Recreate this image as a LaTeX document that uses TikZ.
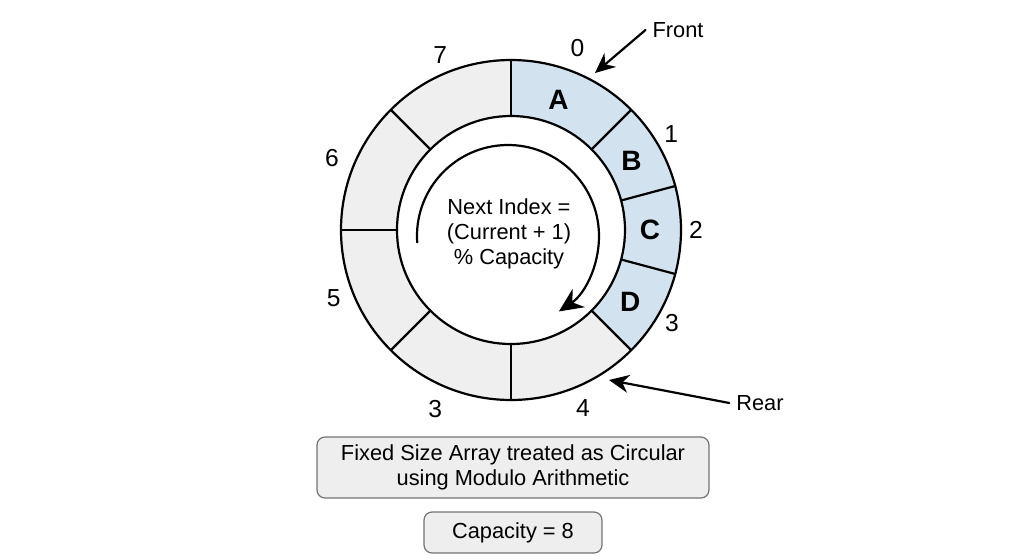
\documentclass[tikz,border=0pt]{standalone}
\usepackage{fontspec}
\setmainfont{Liberation Sans}
\usetikzlibrary{arrows.meta}
\definecolor{cellblue}{RGB}{211,226,239}
\definecolor{cellgray}{RGB}{239,239,239}
\definecolor{boxgray}{RGB}{238,238,238}
\begin{document}
\begin{tikzpicture}[line join=round,line cap=round,x=0.5pt,y=0.5pt]
	\tikzset{idx/.style={font=\fontsize{12.3}{14}\selectfont},
		cell/.style={font=\bfseries\fontsize{14}{16}\selectfont},
		tag/.style={font=\fontsize{10.9}{12.5}\selectfont},
		infobox/.style={draw=black!55,fill=boxgray,rounded corners=4pt,line width=0.6pt,align=center,inner sep=0pt,font=\fontsize{10.9}{12.5}\selectfont},
		pointer/.style={-{Stealth[length=10pt,width=9pt]},line width=1.1pt}}
	\useasboundingbox (-511,230) rectangle (513,-329);
	\foreach \a/\b/\c in {45/90/cellblue,15/45/cellblue,-15/15/cellblue,-45/-15/cellblue,-90/-45/cellgray,-135/-90/cellgray,180/225/cellgray,135/180/cellgray,90/135/cellgray}
	\fill[\c] (\a:114) arc[start angle=\a,end angle=\b,radius=114] -- (\b:170) arc[start angle=\b,end angle=\a,radius=170] -- cycle;
	\foreach \a in {90,45,15,-15,-45,-90,-135,180,135}
	\draw[line width=1.1pt] (\a:114)--(\a:170);
	\draw[line width=1.1pt] (0,0) circle[radius=170] (0,0) circle[radius=114];
	\foreach \a/\r/\t [count=\i] in {70/194/0,31/187/1,0/185/2,-30/186/3,-68/192/4,-113/194/3,201/190/5,158/193/6,112/189/7}
	\node[idx] (idx\i) at (\a:\r) {\t};
	\foreach \a/\t in {70/A,30/B,0/C,-31/D}
	\node[cell] (cell\t) at (\a:139) {\t};
	\node[tag,align=center] (rule) at (-2,-4) {Next Index =\\(Current + 1)\\\% Capacity};
	\draw[-{Stealth[length=12pt,width=11pt]},line width=1.1pt] ([shift={(-3,-6)}]184:91) arc[start angle=184,end angle=-56,radius=91];
	\node[tag] (front) at (167,200) {Front};
	\coordinate (fronttip) at (84,157);
	\draw[pointer] (front.west)--(fronttip);
	\node[tag] (rear) at (249,-173) {Rear};
	\coordinate (reartip) at (98,-150);
	\draw[pointer] (rear.west)--(reartip);
	\node[infobox,minimum width=196pt,minimum height=30.5pt] (caption) at (2,-237.5) {Fixed Size Array treated as Circular\\using Modulo Arithmetic};
	\node[infobox,minimum width=89pt,minimum height=20.5pt] (capacity) at (2,-302.5) {Capacity = 8};
\end{tikzpicture}
\end{document}
